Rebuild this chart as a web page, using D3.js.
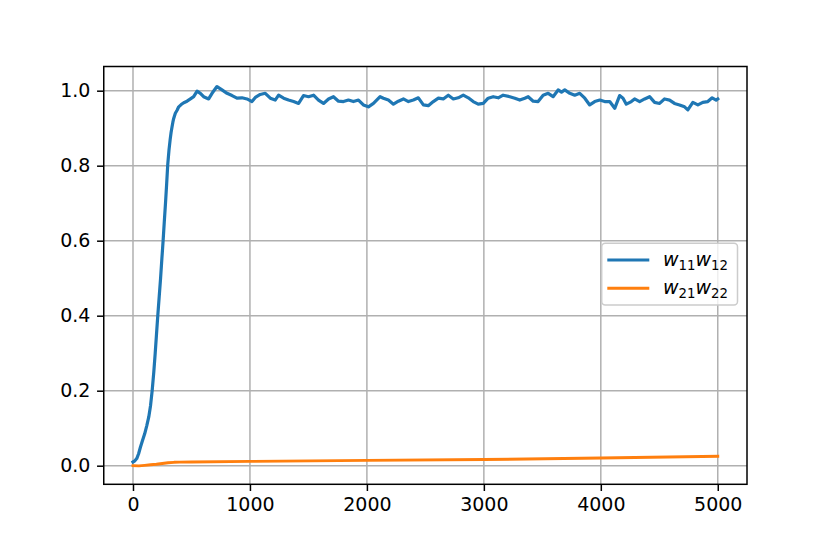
<!DOCTYPE html>
<html>
<head>
<meta charset="utf-8">
<script src="https://cdn.jsdelivr.net/npm/d3@7"></script>
<style>
  html, body { margin: 0; padding: 0; background: #fff; }
  svg { display: block; }
  text { font-family: "DejaVu Sans", sans-serif; }
</style>
</head>
<body>
<svg id="chart" width="830" height="554"></svg>
<script>
// ---- data ----
const blueX = [0, 16, 32, 48, 64, 80, 100, 118, 135, 150, 164, 178, 190, 201, 212, 224, 236, 247, 258, 268, 278, 288, 297, 308, 318, 326, 334, 341, 348, 362, 377, 391, 412, 434, 462, 491, 519, 548, 576, 604, 647, 676, 718, 761, 804, 847, 889, 932, 975, 1017, 1046, 1088, 1131, 1174, 1216, 1245, 1288, 1330, 1373, 1416, 1458, 1501, 1544, 1586, 1629, 1672, 1714, 1757, 1800, 1842, 1885, 1928, 1970, 2013, 2056, 2113, 2141, 2184, 2227, 2269, 2312, 2355, 2397, 2440, 2483, 2525, 2568, 2611, 2653, 2696, 2739, 2781, 2824, 2867, 2909, 2952, 2995, 3037, 3080, 3123, 3165, 3222, 3265, 3307, 3350, 3379, 3422, 3464, 3507, 3550, 3592, 3635, 3664, 3692, 3735, 3777, 3820, 3863, 3905, 3948, 3991, 4033, 4076, 4119, 4161, 4190, 4218, 4261, 4289, 4332, 4375, 4417, 4460, 4503, 4545, 4588, 4630, 4673, 4716, 4744, 4787, 4830, 4872, 4915, 4952, 4986, 5000];
const blueY = [0.010, 0.013, 0.019, 0.032, 0.050, 0.066, 0.085, 0.107, 0.130, 0.160, 0.200, 0.250, 0.300, 0.350, 0.400, 0.450, 0.500, 0.552, 0.602, 0.652, 0.700, 0.752, 0.802, 0.842, 0.870, 0.889, 0.904, 0.916, 0.926, 0.940, 0.948, 0.957, 0.963, 0.968, 0.972, 0.978, 0.984, 0.999, 0.993, 0.984, 0.978, 0.993, 1.011, 1.002, 0.993, 0.987, 0.980, 0.981, 0.978, 0.971, 0.982, 0.990, 0.993, 0.980, 0.975, 0.988, 0.980, 0.975, 0.971, 0.966, 0.987, 0.984, 0.988, 0.975, 0.966, 0.978, 0.984, 0.972, 0.971, 0.975, 0.971, 0.975, 0.962, 0.957, 0.966, 0.984, 0.980, 0.975, 0.964, 0.972, 0.978, 0.971, 0.975, 0.981, 0.962, 0.960, 0.971, 0.980, 0.978, 0.988, 0.978, 0.981, 0.988, 0.981, 0.971, 0.964, 0.966, 0.980, 0.984, 0.981, 0.988, 0.984, 0.980, 0.975, 0.980, 0.984, 0.972, 0.971, 0.988, 0.993, 0.984, 1.002, 0.996, 1.002, 0.993, 0.988, 0.993, 0.980, 0.962, 0.971, 0.975, 0.971, 0.971, 0.953, 0.987, 0.980, 0.964, 0.971, 0.978, 0.971, 0.978, 0.984, 0.969, 0.966, 0.978, 0.975, 0.966, 0.962, 0.957, 0.949, 0.969, 0.962, 0.969, 0.971, 0.981, 0.975, 0.978];
const orangeX = [0, 50, 100, 150, 200, 250, 300, 350, 400, 500, 1000, 2000, 3000, 4000, 5000];
const orangeY = [0.000, -0.0005, 0.001, 0.0025, 0.004, 0.006, 0.008, 0.009, 0.0095, 0.010, 0.0115, 0.0143, 0.0165, 0.0205, 0.025];
const xTicks = [0, 1000, 2000, 3000, 4000, 5000];
const yTicks = [0.0, 0.2, 0.4, 0.6, 0.8, 1.0];
const seriesNames = [["w", "11", "w", "12"], ["w", "21", "w", "22"]];
const seriesColors = ["#1f77b4", "#ff7f0e"];

// ---- layout ----
const L = 103.75, R = 747, T = 66.5, B = 484.3;
const svg = d3.select("#chart");
svg.append("rect").attr("width", 830).attr("height", 554).attr("fill", "#fff");

const x = d3.scaleLinear().domain([-250, 5250]).range([L, R]);
const y = d3.scaleLinear().domain([-0.0496, 1.0645]).range([B, T]);

// grid
const grid = svg.append("g");
xTicks.forEach(t => grid.append("line")
  .attr("x1", x(t)).attr("x2", x(t)).attr("y1", T).attr("y2", B)
  .attr("stroke", "#b0b0b0").attr("stroke-width", 1.5));
yTicks.forEach(t => grid.append("line")
  .attr("x1", L).attr("x2", R).attr("y1", y(t)).attr("y2", y(t))
  .attr("stroke", "#b0b0b0").attr("stroke-width", 1.5));

// lines
svg.append("clipPath").attr("id", "clip").append("rect")
  .attr("x", L).attr("y", T).attr("width", R - L).attr("height", B - T);
const line = d3.line().x(d => x(d[0])).y(d => y(d[1]));
const series = [d3.zip(blueX, blueY), d3.zip(orangeX, orangeY)];
const widths = [3.2, 2.9];
series.forEach((s, i) => svg.append("path")
  .attr("d", line(s)).attr("fill", "none")
  .attr("stroke", seriesColors[i]).attr("stroke-width", widths[i])
  .attr("stroke-linejoin", "round").attr("stroke-linecap", "square")
  .attr("clip-path", "url(#clip)"));

// axes
const fs = 19;
const xAxis = d3.axisBottom(x).tickValues(xTicks).tickSize(6.7).tickPadding(6.2).tickFormat(d3.format("d"));
const yAxis = d3.axisLeft(y).tickValues(yTicks).tickSize(6.7).tickPadding(6.7).tickFormat(d3.format(".1f"));
const gx = svg.append("g").attr("transform", `translate(0,${B})`).call(xAxis);
const gy = svg.append("g").attr("transform", `translate(${L},0)`).call(yAxis);
[gx, gy].forEach(g => {
  g.select(".domain").remove();
  g.selectAll(".tick line").attr("stroke", "#000").attr("stroke-width", 1.5);
  g.selectAll(".tick text").attr("fill", "#000").attr("font-size", fs).attr("font-family", "DejaVu Sans");
});

// spines
svg.append("rect").attr("x", L).attr("y", T).attr("width", R - L).attr("height", B - T)
  .attr("fill", "none").attr("stroke", "#000").attr("stroke-width", 1.5);

// legend
const lg = svg.append("g");
lg.append("rect").attr("x", 601.7).attr("y", 243.3).attr("width", 737.5 - 601.7).attr("height", 305 - 243.3)
  .attr("rx", 3.5).attr("fill", "#fff").attr("fill-opacity", 0.8)
  .attr("stroke", "#cccccc").attr("stroke-width", 1.5);
const rowY = [260, 288.3];
seriesNames.forEach((parts, i) => {
  lg.append("line").attr("x1", 607.3).attr("x2", 649.3).attr("y1", rowY[i]).attr("y2", rowY[i])
    .attr("stroke", seriesColors[i]).attr("stroke-width", 2.9);
  const t = lg.append("text").attr("x", 663).attr("y", rowY[i] + 6).attr("font-size", fs)
    .attr("font-family", "DejaVu Sans").attr("fill", "#000");
  parts.forEach((p, k) => {
    if (k % 2 === 0) {
      t.append("tspan").attr("font-style", "italic").attr("font-size", fs).attr("dy", k === 0 ? 0 : -4).text(p);
    } else {
      t.append("tspan").attr("font-size", fs * 0.7).attr("dy", 4).text(p);
    }
  });
});
</script>
</body>
</html>
